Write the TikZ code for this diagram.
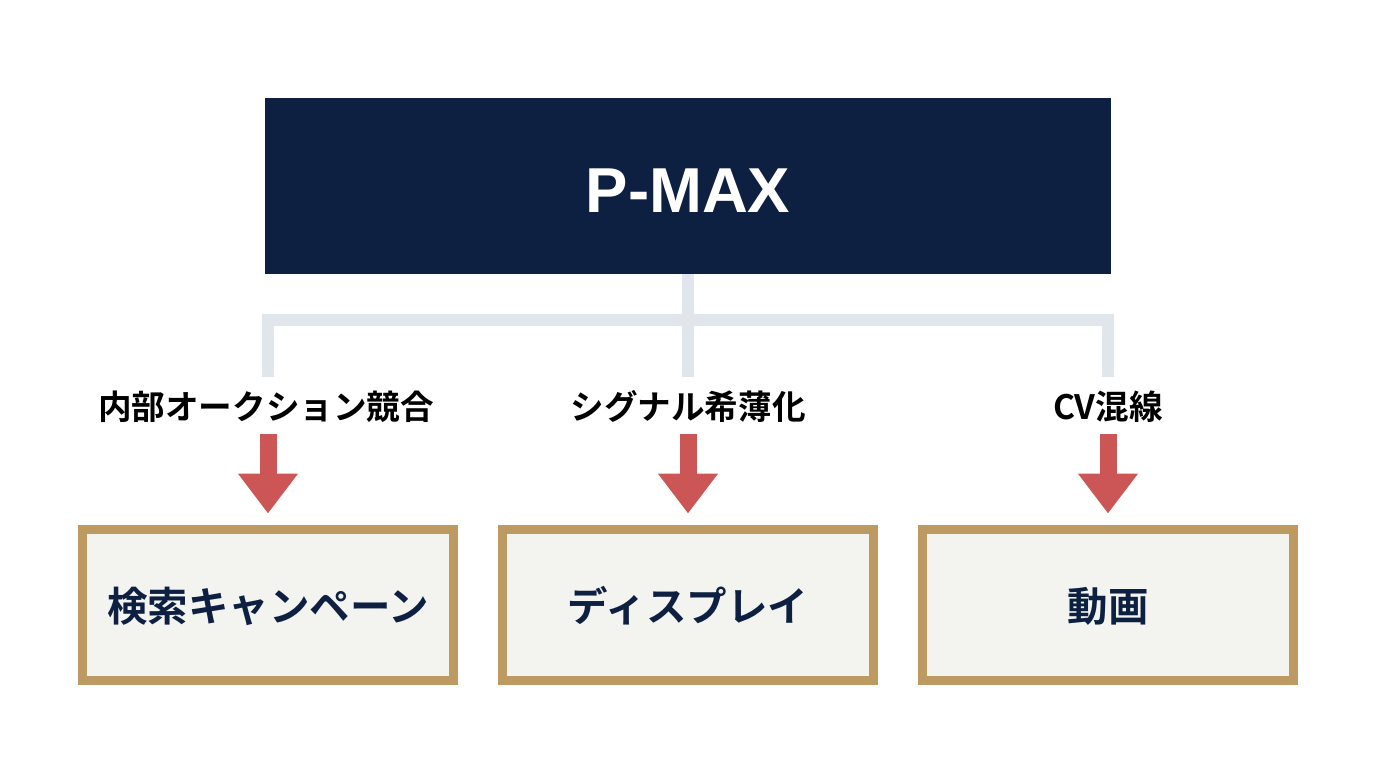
\documentclass[tikz,border=0pt]{standalone}
\usepackage{fontspec}
\setmainfont{Noto Sans CJK JP}[BoldFont={Noto Sans CJK JP Bold}]
\newfontfamily\latinhead{Liberation Sans}
\usetikzlibrary{arrows.meta}
\definecolor{navy}{HTML}{0E2041}
\definecolor{gold}{HTML}{BC9A61}
\definecolor{paper}{HTML}{F3F3EF}
\definecolor{linkgrey}{HTML}{E1E5EC}
\definecolor{alertred}{HTML}{CC5555}
\tikzset{
  topbox/.style={fill=navy,text=white,inner sep=0pt,minimum width=846pt,minimum height=176pt,text height=52pt,text depth=0pt,font=\latinhead\fontsize{63.5}{64}\selectfont\bfseries},
  catbox/.style={draw=gold,fill=paper,line width=9pt,inner sep=0pt,minimum width=371pt,minimum height=151pt,text height=36pt,text depth=2.2pt,text=navy,font=\fontsize{40.5}{41}\selectfont\bfseries},
  issue/.style={inner sep=0pt,text height=43pt,text depth=14pt,text=black,font=\fontsize{33.6}{34}\selectfont\bfseries},
  link/.style={draw=linkgrey,line width=12pt},
  downarrow/.style={draw=alertred,line width=17pt,-{Triangle[width=57.5pt,length=40pt]},shorten >=11pt}
}
\begin{document}
\begin{tikzpicture}[x=1pt,y=-1pt]
\useasboundingbox[fill=white] (0,0) rectangle (1376,768);
\node[topbox] (pmax) at (688,186) {P-MAX};
\node[catbox] (search) at (268,604.5) {検索キャンペーン};
\node[catbox] (display) at (688,604.5) {ディスプレイ};
\node[catbox] (video) at (1108,604.5) {動画};
\node[issue,anchor=north] (auction) at (266,376.5) {内部オークション競合};
\node[issue,anchor=north] (signal) at (688,376.5) {シグナル希薄化};
\node[issue,anchor=north] (cv) at (1108,376.5) {CV混線};
\coordinate (hub) at (688,320);
\draw[link] (pmax.south) -- (signal.north);
\draw[link] (auction.north -| search.north) |- (hub) -| (cv.north);
\draw[downarrow] (auction.south -| search.north) -- (search.north);
\draw[downarrow] (signal.south) -- (display.north);
\draw[downarrow] (cv.south) -- (video.north);
\end{tikzpicture}
\end{document}
